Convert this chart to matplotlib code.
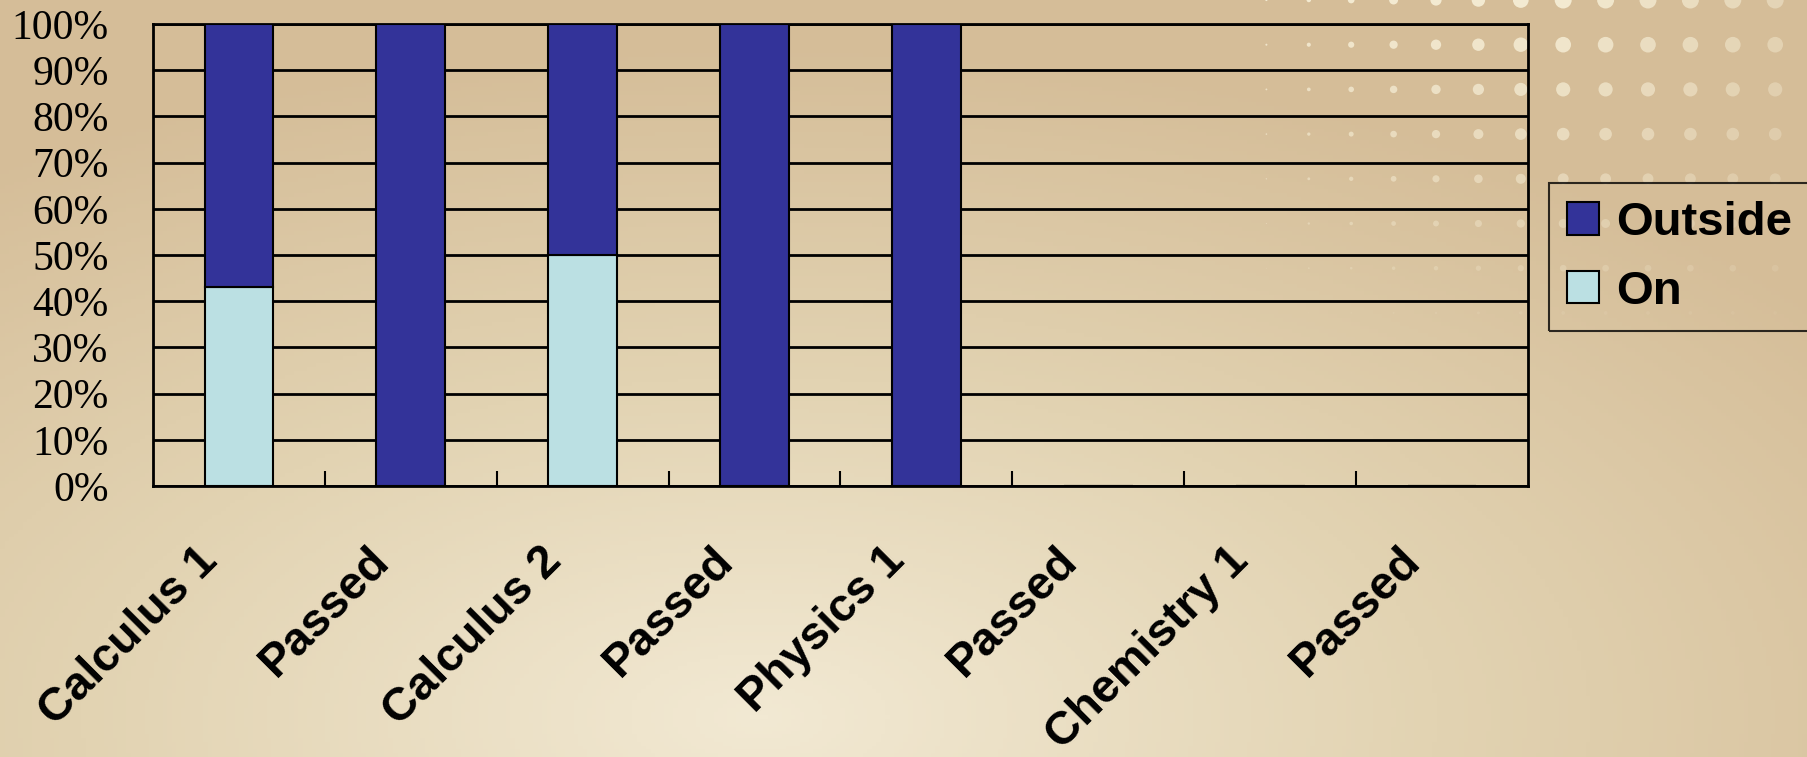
import numpy as np
import matplotlib
matplotlib.use("Agg")
import matplotlib.pyplot as plt
import matplotlib.transforms as mtransforms
from matplotlib.colors import LinearSegmentedColormap

categories = ["Calculus 1", "Passed", "Calculus 2", "Passed",
              "Physics 1", "Passed", "Chemistry 1", "Passed"]
on_pct = [43, 0, 50, 0, 0, 0, 0, 0]
outside_pct = [57, 100, 50, 100, 100, 0, 0, 0]
y_labels = ["0%", "10%", "20%", "30%", "40%", "50%", "60%", "70%", "80%", "90%", "100%"]

W, H = 1807, 757
fig = plt.figure(figsize=(W / 100, H / 100), dpi=100)

# background gradient (light glow near bottom centre, tan edges)
bg = fig.add_axes([0, 0, 1, 1], zorder=-10)
yy, xx = np.mgrid[0:1:200j, 0:1:400j]
d = np.sqrt(((xx - 0.42) / 0.75) ** 2 + ((yy - 0.05) / 0.9) ** 2)
cmap = LinearSegmentedColormap.from_list("bg", ["#f2e9d3", "#e2d3b2", "#d5bd98"])
bg.imshow(np.clip(d, 0, 1), cmap=cmap, aspect="auto", origin="lower", extent=[0, 1, 0, 1])

# decorative dot pattern, top right
gx, gy = np.meshgrid(np.arange(1224, W + 30, 42.4), np.arange(0, 330, 44.7))
grow = np.clip((gx - 1225) / 320, 0, 1)
down = np.clip(1 - gy / 340, 0, 1)
diam = 17 * grow * down ** 0.6
fade = np.clip(1 - (gx - 1560) / 450, 0.25, 1) * down ** 0.8
bg.scatter(gx / W, 1 - gy / H, s=(diam * 0.72) ** 2, color="#f7f0d8",
           alpha=(0.9 * fade).ravel(), lw=0)
bg.set_xlim(0, 1)
bg.set_ylim(0, 1)
bg.axis("off")

ax = fig.add_axes([153 / W, 1 - 486 / H, (1528 - 153) / W, (486 - 24) / H])
ax.patch.set_alpha(0)
x = np.arange(len(categories))
ax.bar(x, on_pct, width=0.4, color="#bbe0e3", edgecolor="black", lw=1.5, label="On", zorder=3)
ax.bar(x, outside_pct, width=0.4, bottom=on_pct, color="#333399", edgecolor="black", lw=1.5,
       label="Outside", zorder=3)

ax.set_xlim(-0.5, len(categories) - 0.5)
ax.set_ylim(0, 100)
ax.set_yticks(np.arange(0, 101, 10))
ax.set_yticklabels(y_labels, family="Liberation Serif", fontsize=30)
ax.tick_params(axis="y", length=0, pad=32)
ax.yaxis.grid(True, color="black", lw=2)
ax.set_axisbelow(True)

ax.set_xticks(x)
ax.set_xticklabels(categories, rotation=45, ha="right", va="center", rotation_mode="anchor",
                   fontsize=33.5, fontweight="bold", family="Liberation Sans")
ax.tick_params(axis="x", which="major", length=0, pad=49)
ax.set_xticks(np.arange(0.5, len(categories) - 0.5), minor=True)
ax.tick_params(axis="x", which="minor", direction="in", length=11, width=1.5, color="black")
off = mtransforms.ScaledTranslation(-28 / 100, 0, fig.dpi_scale_trans)
for lab in ax.get_xticklabels():
    lab.set_transform(lab.get_transform() + off)

for sp in ax.spines.values():
    sp.set_color("black")
    sp.set_linewidth(2)

handles, labels = ax.get_legend_handles_labels()
leg = fig.legend(handles[::-1], labels[::-1], loc="upper left",
                 bbox_to_anchor=(1549 / W, 1 - 183 / H),
                 prop={"family": "Liberation Sans", "weight": "bold", "size": 34},
                 frameon=True, fancybox=False, edgecolor="black", facecolor="none",
                 handlelength=0.68, handleheight=0.68, handletextpad=0.36,
                 labelspacing=0.52, borderpad=0.38, borderaxespad=0)
leg.get_frame().set_linewidth(1.5)

fig.savefig("out.png", dpi=100)
